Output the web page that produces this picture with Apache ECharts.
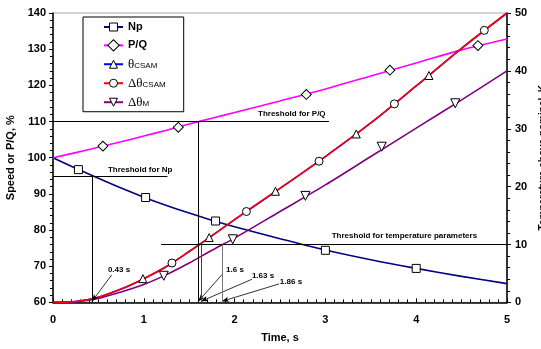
<!DOCTYPE html>
<html>
<head>
<meta charset="utf-8">
<script src="https://cdn.jsdelivr.net/npm/echarts@6/dist/echarts.min.js"></script>
<style>
html, body { margin: 0; padding: 0; background: #fff; }
#main { width: 541px; height: 349px; }
</style>
</head>
<body>
<div id="main"></div>
<script>
// time grid, s (shared by all curves)
var timeS = [0, 0.25, 0.5, 0.75, 1, 1.25, 1.5, 1.75, 2, 2.5, 3, 3.5, 4, 4.5, 5];
// left axis, %
var np = [100, 97.1, 94.3, 91.6, 89.1, 86.8, 84.7, 82.7, 80.9, 77.6, 74.5, 71.8, 69.4, 67.2, 65.2];
var pq = [100, 101.4, 102.9, 104.4, 106.0, 107.6, 109.3, 110.9, 112.5, 115.7, 119.0, 122.6, 126.2, 129.8, 132.8];
// right axis, K above nominal
var thetaCsam = [0, 0.15, 0.9, 2.3, 4.1, 6.2, 8.8, 11.5, 14.3, 19.7, 25.2, 31.0, 37.4, 43.9, 50];
var dThetaCsam = [0, 0.15, 0.9, 2.3, 4.1, 6.2, 8.8, 11.5, 14.3, 19.7, 25.2, 31.0, 37.4, 43.9, 50];
var dThetaM = [0, 0.1, 0.7, 1.8, 3.1, 4.8, 6.8, 9.0, 11.1, 15.7, 20.3, 25.2, 30.1, 35.0, 40];

// marker points
var npMarkT = [0.28, 1.02, 1.79, 3.0, 4.0];
var npMarkV = [96.7, 89.0, 82.5, 74.4, 69.4];
var pqMarkT = [0.55, 1.38, 2.79, 3.71, 4.68];
var pqMarkV = [103.2, 108.4, 117.5, 124.2, 131.0];
var thetaMarkT = [0.99, 1.72, 2.45, 3.34, 4.14];
var thetaMarkV = [4.1, 11.2, 19.2, 29.1, 39.2];
var dThetaMarkT = [1.31, 2.13, 2.93, 3.76, 4.75];
var dThetaMarkV = [6.8, 15.7, 24.4, 34.3, 47.0];
var dThetaMMarkT = [1.22, 1.98, 2.78, 3.62, 4.43];
var dThetaMMarkV = [4.6, 10.9, 18.4, 26.9, 34.4];

// thresholds and crossing times
var thrNp = 95, thrPQ = 110, thrTemp = 10;
var crossT = [0.43, 1.6, 1.63, 1.86];
var crossLabels = ['0.43 s', '1.6 s', '1.63 s', '1.86 s'];

function pairs(xs, ys) {
  return xs.map(function (x, i) { return [x, ys[i]]; });
}

var FONT = '"Liberation Sans", Arial, sans-serif';
var SERIF = '"Liberation Serif", "Times New Roman", serif';

function seg(a, b, color, width) {
  return [{ coord: a, symbol: 'none' }, { coord: b, symbol: 'none', lineStyle: { color: color || '#000', width: width || 1 } }];
}
function arrow(a, b) {
  return [{ coord: a, symbol: 'none' }, { coord: b, symbol: 'arrow', symbolSize: [4, 7], lineStyle: { color: '#000', width: 0.8 } }];
}

function markers(name, xs, ys, sym, rot, yIdx, size) {
  return {
    name: name, type: 'scatter', data: pairs(xs, ys), yAxisIndex: yIdx,
    symbol: sym, symbolRotate: rot || 0, symbolSize: size || 8, silent: true, z: 6,
    itemStyle: { color: '#fff', borderColor: '#000', borderWidth: 1, opacity: 1 }
  };
}

function lineSeries(name, ys, color, sym, rot, yIdx, z, extra) {
  var s = {
    name: name, type: 'line', data: pairs(timeS, ys), yAxisIndex: yIdx,
    smooth: 0.3, showSymbol: false, symbol: sym, symbolRotate: rot || 0,
    color: color, lineStyle: { color: color, width: 1.6 }, z: z, silent: true
  };
  for (var k in extra) s[k] = extra[k];
  return s;
}

var legendItem = function (name) {
  return { name: name, itemStyle: { color: '#fff', borderColor: '#000', borderWidth: 1 } };
};

var chart = echarts.init(document.getElementById('main'), null, { renderer: 'canvas' });

var option = {
  animation: false,
  backgroundColor: '#fff',
  grid: {
    left: 53, right: 34, top: 13, bottom: 46.6,
    containLabel: false, outerBoundsMode: 'none',
    show: true, borderColor: '#aaa', borderWidth: 1, backgroundColor: 'transparent'
  },
  legend: {
    orient: 'vertical', left: 83, top: 17,
    data: ['Np', 'P/Q', 'θCSAM', 'ΔθCSAM', 'ΔθM'].map(legendItem),
    itemWidth: 19, itemHeight: 10, itemGap: 6,
    padding: [4, 18, 3, 20],
    backgroundColor: '#fff', borderColor: '#000', borderWidth: 1, borderRadius: 0,
    selectedMode: false,
    formatter: function (n) {
      if (n === 'θCSAM') return '{g|θ}{s|CSAM}';
      if (n === 'ΔθCSAM') return '{g|Δθ}{s|CSAM}';
      if (n === 'ΔθM') return '{g|Δθ}{s|M}';
      return '{b|' + n + '}';
    },
    textStyle: {
      color: '#000', lineHeight: 12,
      rich: {
        b: { fontFamily: FONT, fontWeight: 'bold', fontSize: 11, lineHeight: 12 },
        g: { fontFamily: SERIF, fontSize: 13, lineHeight: 12 },
        s: { fontFamily: FONT, fontSize: 8, lineHeight: 12, verticalAlign: 'bottom' }
      }
    }
  },
  xAxis: {
    type: 'value', min: 0, max: 5, interval: 1,
    name: 'Time, s', nameLocation: 'middle', nameGap: 30,
    nameTextStyle: { fontFamily: FONT, fontWeight: 'bold', fontSize: 11, color: '#000' },
    axisLine: { onZero: false, lineStyle: { color: '#000', width: 1.5 } },
    axisTick: { inside: true, length: 4, lineStyle: { color: '#000' } },
    minorTick: { show: true, splitNumber: 10, length: 3, lineStyle: { color: '#000' } },
    axisLabel: { fontFamily: FONT, fontWeight: 'bold', fontSize: 11, color: '#000', margin: 12 },
    splitLine: { show: false }
  },
  yAxis: [{
    type: 'value', min: 60, max: 140, interval: 10, position: 'left',
    name: 'Speed or P/Q, %', nameLocation: 'middle', nameGap: 34, nameRotate: 90,
    nameTextStyle: { fontFamily: FONT, fontWeight: 'bold', fontSize: 11, color: '#000' },
    axisLine: { show: true, lineStyle: { color: '#000', width: 1.5 } },
    axisTick: { show: true, length: 4, lineStyle: { color: '#000' } },
    minorTick: { show: true, splitNumber: 5, length: 3, lineStyle: { color: '#000' } },
    axisLabel: { fontFamily: FONT, fontWeight: 'bold', fontSize: 11, color: '#000', margin: 7 },
    splitLine: { show: false }
  }, {
    type: 'value', min: 0, max: 50, interval: 10, position: 'right',
    name: 'Temperature above nominal, K', nameLocation: 'middle', nameGap: 25, nameRotate: 90,
    nameTextStyle: { fontFamily: FONT, fontWeight: 'bold', fontSize: 10, color: '#000' },
    axisLine: { show: true, lineStyle: { color: '#000', width: 1.5 } },
    axisTick: { show: true, length: 4, lineStyle: { color: '#000' } },
    minorTick: { show: true, splitNumber: 5, length: 3, lineStyle: { color: '#000' } },
    axisLabel: { fontFamily: FONT, fontWeight: 'bold', fontSize: 11, color: '#000', margin: 8 },
    splitLine: { show: false }
  }],
  series: [
    lineSeries('Np', np, '#000080', 'rect', 0, 0, 3, {
      markLine: {
        silent: true, animation: false, label: { show: false },
        lineStyle: { color: '#000', width: 1, type: 'solid' },
        data: [
          seg([0, thrNp], [1.26, thrNp]),
          seg([0, thrPQ], [3.04, thrPQ]),
          seg([crossT[0], thrNp], [crossT[0], 60]),
          seg([crossT[1], thrPQ], [crossT[1], 60]),
          arrow([0.646, 67.6], [crossT[0], 60.3]),
          arrow([1.866, 67.8], [crossT[1], 60.3]),
          arrow([2.192, 66.4], [crossT[2], 60.3]),
          arrow([2.49, 65.1], [crossT[3], 60.3])
        ]
      }
    }),
    lineSeries('P/Q', pq, '#ff00ff', 'rect', 45, 0, 3),
    lineSeries('θCSAM', thetaCsam, '#0000ff', 'triangle', 0, 1, 3),
    lineSeries('ΔθCSAM', dThetaCsam, '#ff0000', 'circle', 0, 1, 4, {
      markLine: {
        silent: true, animation: false, label: { show: false },
        lineStyle: { color: '#000', width: 1, type: 'solid' },
        data: [
          seg([1.19, thrTemp], [5, thrTemp]),
          seg([crossT[2], thrTemp], [crossT[2], 0], '#444'),
          seg([crossT[3], thrTemp], [crossT[3], 0], '#777')
        ]
      }
    }),
    lineSeries('ΔθM', dThetaM, '#800080', 'triangle', 180, 1, 3),
    markers('m-np', npMarkT, npMarkV, 'rect', 0, 0, 8),
    markers('m-pq', pqMarkT, pqMarkV, 'rect', 45, 0, 7),
    markers('m-theta', thetaMarkT, thetaMarkV, 'triangle', 0, 1, 8),
    markers('m-dtheta', dThetaMarkT, dThetaMarkV, 'circle', 0, 1, 8),
    markers('m-dthetaM', dThetaMMarkT, dThetaMMarkV, 'triangle', 180, 1, 9)
  ]
};

chart.setOption(option);

// annotation texts, placed in data coordinates: [text, t, value, yAxisIndex]
var notes = [
  ['Threshold for Np', 0.96, 96.6, 0],
  ['Threshold for P/Q', 2.63, 112.1, 0],
  ['Threshold for temperature parameters', 3.87, 11.5, 1],
  [crossLabels[0], 0.727, 69.0, 0],
  [crossLabels[1], 2.004, 69.0, 0],
  [crossLabels[2], 2.313, 67.4, 0],
  [crossLabels[3], 2.621, 65.7, 0]
];
chart.setOption({
  graphic: notes.map(function (n) {
    var p = chart.convertToPixel({ xAxisIndex: 0, yAxisIndex: n[3] }, [n[1], n[2]]);
    return {
      type: 'text', x: p[0], y: p[1], silent: true, z: 10,
      style: { text: n[0], font: 'bold 8px ' + FONT, fill: '#000', align: 'center', verticalAlign: 'middle' }
    };
  })
});
</script>
</body>
</html>
